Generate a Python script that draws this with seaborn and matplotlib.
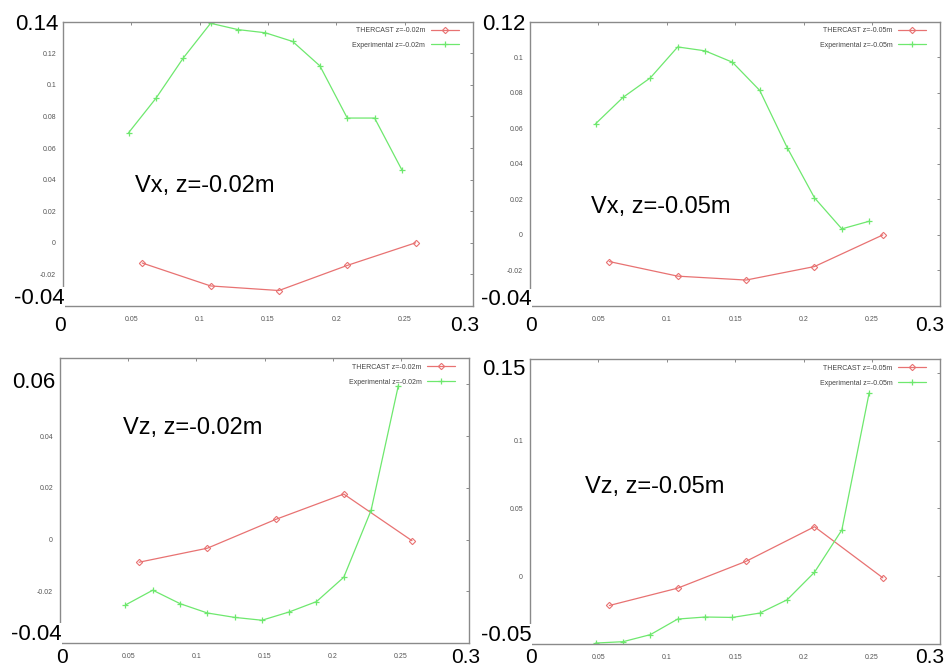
import matplotlib
matplotlib.use("Agg")
import matplotlib.pyplot as plt
import seaborn as sns
import pandas as pd

sns.set_style("white")
plt.rcParams["font.family"] = ["Liberation Sans", "DejaVu Sans"]

# ---------------- data ----------------
x_exp = [0.048, 0.068, 0.088, 0.108, 0.128, 0.148, 0.168, 0.188, 0.208, 0.228, 0.248]
x_th = [0.058, 0.108, 0.158, 0.208, 0.258]

vx02_exp = [0.0697, 0.0915, 0.117, 0.139, 0.135, 0.133, 0.1275, 0.112, 0.079, 0.079, 0.0461]
vx02_th = [-0.0128, -0.0273, -0.0302, -0.0143, 0.0]

vx05_exp = [0.0626, 0.0774, 0.0884, 0.1058, 0.1036, 0.0972, 0.0813, 0.0492, 0.0209, 0.0034, 0.0077]
vx05_th = [-0.0150, -0.0232, -0.0254, -0.0178, 0.0]

vz02_exp = [-0.0252, -0.0195, -0.0247, -0.0283, -0.0300, -0.0311, -0.0279, -0.0239, -0.0145, 0.0113, 0.0595]
vz02_th = [-0.0087, -0.0033, 0.0078, 0.0176, -0.0004]

vz05_exp = [-0.0493, -0.0483, -0.0431, -0.0316, -0.0301, -0.0304, -0.0272, -0.0174, 0.0029, 0.0341, 0.1353]
vz05_th = [-0.0216, -0.0088, 0.0110, 0.0365, -0.0012]

x_ticks = [0.05, 0.1, 0.15, 0.2, 0.25]
x_ticklabels = ["0.05", "0.1", "0.15", "0.2", "0.25"]

panels = [
    dict(title="Vx, z=-0.02m", z="-0.02m", exp=vx02_exp, th=vx02_th,
         ylim=(-0.04, 0.14),
         yticks=[-0.02, 0, 0.02, 0.04, 0.06, 0.08, 0.1, 0.12],
         yticklabels=["-0.02", "0", "0.02", "0.04", "0.06", "0.08", "0.1", "0.12"],
         ytop="0.14", ybot="-0.04"),
    dict(title="Vx, z=-0.05m", z="-0.05m", exp=vx05_exp, th=vx05_th,
         ylim=(-0.04, 0.12),
         yticks=[-0.02, 0, 0.02, 0.04, 0.06, 0.08, 0.1],
         yticklabels=["-0.02", "0", "0.02", "0.04", "0.06", "0.08", "0.1"],
         ytop="0.12", ybot="-0.04"),
    dict(title="Vz, z=-0.02m", z="-0.02m", exp=vz02_exp, th=vz02_th,
         ylim=(-0.04, 0.07),
         yticks=[-0.02, 0, 0.02, 0.04, 0.06],
         yticklabels=["-0.02", "0", "0.02", "0.04", ""],
         ytop="0.06", ybot="-0.04"),
    dict(title="Vz, z=-0.05m", z="-0.05m", exp=vz05_exp, th=vz05_th,
         ylim=(-0.05, 0.16),
         yticks=[0, 0.05, 0.1, 0.15],
         yticklabels=["0", "0.05", "0.1", ""],
         ytop="0.15", ybot="-0.05"),
]

# ---------------- layout (pixel based) ----------------
W, H = 950, 668
boxes = [  # left, right, top, bottom in pixels
    (63, 473, 21.7, 306),
    (530, 940.3, 21.7, 306),
    (60, 469.3, 358.3, 643.3),
    (530, 940.3, 359.3, 644),
]
title_pos = [(0.176, 0.402), (0.149, 0.326), (0.155, 0.734), (0.134, 0.529)]
ytop_pos = [0.990, 0.990, 0.915, 0.965]
ybot_pos = [0.026, 0.022, 0.031, 0.030]
x0_pos = [-0.007, 0.002, 0.006, 0.002]
x3_pos = [0.980, 0.974, 0.990, 0.975]
xlab_base_px = [331, 331, 663, 663]   # baseline of the big x-end labels (pixels)

RED = "#e87272"
GREEN = "#6ee86e"
FRAME = "#8a8a8a"

fig = plt.figure(figsize=(W / 100, H / 100), dpi=100)
fig.patch.set_facecolor("white")

for i, p in enumerate(panels):
    l, r, t, b = boxes[i]
    ax = fig.add_axes([l / W, 1 - b / H, (r - l) / W, (b - t) / H])
    df_th = pd.DataFrame({"x": x_th, "v": p["th"]})
    df_ex = pd.DataFrame({"x": x_exp, "v": p["exp"]})
    sns.lineplot(data=df_th, x="x", y="v", ax=ax, color=RED, lw=0.9, sort=False,
                 marker="D", markersize=3.2, markerfacecolor="none",
                 markeredgecolor=RED, markeredgewidth=0.8,
                 label="THERCAST z=" + p["z"], legend=False)
    sns.lineplot(data=df_ex, x="x", y="v", ax=ax, color=GREEN, lw=0.9, sort=False,
                 marker="+", markersize=5, markeredgecolor=GREEN, markeredgewidth=0.9,
                 label="Experimental z=" + p["z"], legend=False)
    ax.set_xlim(0, 0.3)
    ax.set_ylim(*p["ylim"])
    ax.set_xlabel("")
    ax.set_ylabel("")
    ax.set_xticks(x_ticks)
    ax.set_xticklabels(x_ticklabels)
    ax.set_yticks(p["yticks"])
    ax.set_yticklabels(p["yticklabels"])
    ax.tick_params(axis="both", direction="in", length=2.5, width=0.7,
                   colors=FRAME, labelcolor="#555555", labelsize=5,
                   top=True, right=True)
    ax.tick_params(axis="x", pad=7)
    ax.tick_params(axis="y", pad=5)
    for s in ax.spines.values():
        s.set_color(FRAME)
        s.set_linewidth(1.0)
    ax.set_facecolor("white")

    leg = ax.legend(loc="upper right", bbox_to_anchor=(0.975, 0.995),
                    frameon=False, markerfirst=False, fontsize=5,
                    handlelength=4.0, labelspacing=1.1, borderaxespad=0.2)
    for txt in leg.get_texts():
        txt.set_color("#444444")

    ax.text(title_pos[i][0], title_pos[i][1], p["title"], transform=ax.transAxes,
            fontsize=17, ha="left", va="baseline", color="black")

    big = dict(fontsize=16, color="black", transform=ax.transAxes, clip_on=False,
               bbox=dict(facecolor="white", edgecolor="none", pad=0.5), zorder=5)
    ax.text(-0.012, ytop_pos[i], p["ytop"], ha="right", va="center", **big)
    ax.text(0.004, ybot_pos[i], p["ybot"], ha="right", va="center", **big)
    bigx = dict(fontsize=15, color="black", transform=ax.transAxes, clip_on=False,
                zorder=5)
    yfrac = (b - xlab_base_px[i]) / (b - t)
    ax.text(x0_pos[i], yfrac, "0", ha="center", va="baseline", **bigx)
    ax.text(x3_pos[i], yfrac, "0.3", ha="center", va="baseline", **bigx)

fig.savefig("out.png", dpi=100, facecolor="white")
